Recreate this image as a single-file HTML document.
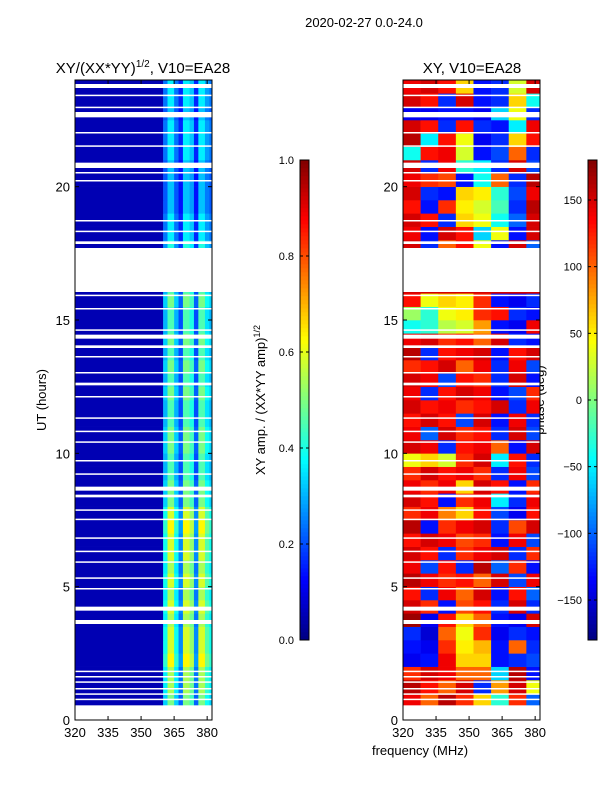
<!DOCTYPE html>
<html><head><meta charset="utf-8"><style>
body{margin:0;background:#fff;font-family:"Liberation Sans","DejaVu Sans",sans-serif;}
svg text{font-family:"Liberation Sans","DejaVu Sans",sans-serif;fill:#000;}
</style></head><body>
<svg id="fig" width="600" height="800" xmlns="http://www.w3.org/2000/svg">
<rect width="600" height="800" fill="#fff"/>
<text x="364" y="27" font-size="13" text-anchor="middle">2020-02-27 0.0-24.0</text>
<text x="143" y="73" font-size="15" text-anchor="middle">XY/(XX*YY)<tspan font-size="10" dy="-6">1/2</tspan><tspan dy="6">, V10=EA28</tspan></text>
<text x="472" y="73" font-size="15" text-anchor="middle">XY, V10=EA28</text>
<text x="46" y="400" font-size="13" text-anchor="middle" transform="rotate(-90 46 400)">UT (hours)</text>
<text x="420" y="755" font-size="13" text-anchor="middle">frequency (MHz)</text>
<text x="265" y="400" font-size="13" text-anchor="middle" transform="rotate(-90 265 400)">XY amp. / (XX*YY amp)<tspan font-size="9" dy="-5">1/2</tspan></text>
<text x="544" y="400" font-size="13" text-anchor="middle" transform="rotate(-90 544 400)">phase (deg)</text>
<g id="layer"></g>
</svg>
<script>
const freqEdgesAmp=[320,360,362,365,367,369,372,374,376,379,381,382.2];
const ampByChan=[0.05,0.3,0.45,0.3,0.2,0.45,0.4,0.2,0.45,0.35,0.3];
const ampRowScale=[1,1.1,1.2,1.2,1.4,1.3,1.3,1.2,1.3,1.2,1.3,1.2,1.3,1.3,1.4,1.3,1.1,1.1,1.0,1.0,1.1,1.1,1.0,1.0,1.1,1.0,1.1,1.0,1.1,1.0,1.0,1.1,1.0,1.0,1.0,0.9,0.8,0.8,0.7,0.7,0.7,0.7,0.8,0.8,0.8,0.7,0.8,0.8];
const freqEdgesPhase=[320,328,336,344,352,360,368,376,382.2];
const phaseGrid=[
[150,150,150,150,150,150,150,150],
[140,100,160,120,60,-30,120,-100],
[160,130,100,150,-120,80,150,40],
[120,150,140,100,100,-60,160,-130],
[-140,-130,140,60,60,-130,-120,-110],
[-130,-140,120,50,70,-130,100,-120],
[-120,-150,100,40,120,-140,-120,-130],
[170,-140,130,60,100,-130,-140,150],
[150,120,-130,110,130,-120,150,-120],
[130,-120,140,100,150,-130,130,-100],
[160,140,120,130,100,150,-110,140],
[140,-110,130,-120,160,-100,120,-130],
[150,130,-120,120,140,150,-120,120],
[130,150,140,110,120,-130,140,-110],
[160,-130,120,140,150,-120,110,150],
[120,140,90,60,130,-110,-140,130],
[150,130,-130,120,140,-50,-120,140],
[140,120,140,60,150,130,-130,120],
[120,150,130,140,120,-120,140,-110],
[40,60,30,120,150,-50,130,-120],
[150,140,-120,130,140,100,-130,150],
[140,-100,150,120,130,-120,150,-110],
[130,150,130,-110,150,-130,140,-120],
[150,130,140,120,130,150,-120,140],
[140,-120,130,150,140,-130,-110,120],
[150,140,-110,130,120,-120,150,-130],
[120,130,150,100,140,-120,140,-110],
[160,-120,130,140,150,-130,130,150],
[140,150,120,130,100,150,-120,-130],
[-40,-30,20,30,80,-130,-140,140],
[10,-30,40,50,120,130,-120,-130],
[130,40,60,50,120,-130,-140,-120],
[150,150,150,150,150,150,150,150],
[150,150,150,150,150,150,150,150],
[150,150,150,150,150,150,150,150],
[150,-120,100,130,40,-130,150,-100],
[140,-130,150,130,-60,40,-130,150],
[150,130,-120,60,40,-40,-100,150],
[130,-130,120,50,30,-20,-120,160],
[150,-120,-130,60,50,-30,-110,140],
[140,120,110,-130,-40,100,-120,160],
[150,-120,140,-30,-50,-120,150,-110],
[-40,130,140,30,-130,-110,100,-120],
[160,-50,130,40,-140,-120,60,130],
[150,130,-120,130,-120,-130,-50,140],
[-140,-140,-130,-130,-140,-60,40,-120],
[150,130,-120,150,-130,-120,60,-40],
[140,150,130,60,-130,-120,30,150]];
const gaps=[[0,0.55],[0.75,0.8],[0.95,1.0],[1.15,1.2],[1.4,1.45],[1.6,1.65],[1.8,1.85],[3.6,3.75],[4.1,4.25],[4.9,4.95],[5.3,5.35],[5.9,5.95],[6.3,6.35],[6.8,6.85],[7.5,7.55],[7.85,7.9],[8.35,8.45],[8.6,8.75],[9.2,9.25],[9.7,9.75],[10.4,10.45],[10.8,10.85],[11.3,11.35],[12.1,12.15],[12.55,12.65],[13.0,13.05],[13.6,13.65],[13.95,14.05],[14.3,14.45],[14.6,14.65],[15.4,15.45],[15.9,15.95],[16.05,17.7],[17.85,17.95],[18.3,18.35],[18.7,18.75],[20.2,20.25],[20.5,20.55],[20.7,20.9],[21.5,21.55],[22.0,22.05],[22.6,22.8],[22.95,23.0],[23.4,23.45],[23.7,23.85]];
const xTicks=[320,335,350,365,380];
const yTicks=[0,5,10,15,20];
const ampTicks=[0,0.2,0.4,0.6,0.8,1.0];
const phaseTicks=[-150,-100,-50,0,50,100,150];

const NS="http://www.w3.org/2000/svg";
const layer=document.getElementById('layer');
function el(t,a,p){const e=document.createElementNS(NS,t);for(const k in a)e.setAttribute(k,a[k]);(p||layer).appendChild(e);return e;}
function jet(v){v=Math.max(0,Math.min(1,v));const r=Math.max(0,Math.min(1,1.5-Math.abs(4*v-3))),g=Math.max(0,Math.min(1,1.5-Math.abs(4*v-2))),b=Math.max(0,Math.min(1,1.5-Math.abs(4*v-1)));return `rgb(${Math.round(r*255)},${Math.round(g*255)},${Math.round(b*255)})`;}
const Y0=720,Y1=80,H0=0,H1=24;
function yS(h){return Y0-(h-H0)/(H1-H0)*(Y0-Y1);}
function makeX(x0){return f=>x0+(f-320)/(382.2-320)*137;}
const panels=[{x0:75,name:'amp'},{x0:403,name:'phase'}];
panels.forEach(p=>{
  const xS=makeX(p.x0);
  const g=el('g',{});
  
  
  for(let i=0;i<48;i++){
    const h0=i*0.5,h1=h0+0.5;
    if(p.name==='amp'){
      for(let j=0;j<ampByChan.length;j++){
        const v=ampByChan[j]*(j===0?1:ampRowScale[i]);
        const r=el('rect',{x:xS(freqEdgesAmp[j]),y:yS(h1),width:xS(freqEdgesAmp[j+1])-xS(freqEdgesAmp[j])+0.3,height:yS(h0)-yS(h1)+0.3,fill:jet(v)},g);
        
        
      }
    } else {
      for(let j=0;j<8;j++){
        const v=(phaseGrid[i][j]+180)/360;
        const r=el('rect',{x:xS(freqEdgesPhase[j]),y:yS(h1),width:xS(freqEdgesPhase[j+1])-xS(freqEdgesPhase[j])+0.3,height:yS(h0)-yS(h1)+0.3,fill:jet(v)},g);
        
        
      }
    }
  }
  gaps.forEach(gp=>{
    const r=el('rect',{x:p.x0,y:yS(gp[1]),width:137,height:Math.max(1.5,yS(gp[0])-yS(gp[1])),fill:'#fff'},g);
    
    
  });
  const fr=el('rect',{x:p.x0,y:80,width:137,height:640,fill:'none',stroke:'#000','stroke-width':1});
  
  
  xTicks.forEach(t=>{
    const x=xS(t);
    el('line',{x1:x,x2:x,y1:720,y2:716,stroke:'#000'});
    el('line',{x1:x,x2:x,y1:80,y2:84,stroke:'#000'});
    const tx=el('text',{x:x,y:737,'font-size':13,'text-anchor':'middle'});tx.textContent=t;
    
    
  });
  yTicks.forEach(t=>{
    const y=yS(t);
    el('line',{x1:p.x0,x2:p.x0+4,y1:y,y2:y,stroke:'#000'});
    el('line',{x1:p.x0+137,x2:p.x0+133,y1:y,y2:y,stroke:'#000'});
    const tx=el('text',{x:p.x0-5,y:y+5,'font-size':13,'text-anchor':'end'});tx.textContent=t;
    
    
  });
});
function colorbar(x,name,ticks,vmin,vmax){
  const g=el('g',{});
  
  
  for(let k=0;k<120;k++){
    el('rect',{x:x,y:640-(k+1)*4,width:9,height:4.3,fill:jet((k+0.5)/120)},g);
  }
  el('rect',{x:x,y:160,width:9,height:480,fill:'none',stroke:'#000'},g);
  ticks.forEach(t=>{
    const y=640-(t-vmin)/(vmax-vmin)*480;
    el('line',{x1:x,x2:x+3,y1:y,y2:y,stroke:'#000'},g);
    el('line',{x1:x+9,x2:x+6,y1:y,y2:y,stroke:'#000'},g);
    const tx=el('text',{x:x-6,y:y+4,'font-size':11,'text-anchor':'end'},g);
    tx.textContent=vmin===0?t.toFixed(1):(t<0?'\u2212'+(-t):t);
    
    
  });
}
colorbar(300,'amp-colorbar',ampTicks,0,1);
colorbar(588,'phase-colorbar',phaseTicks,-180,180);
</script>
</body></html>
